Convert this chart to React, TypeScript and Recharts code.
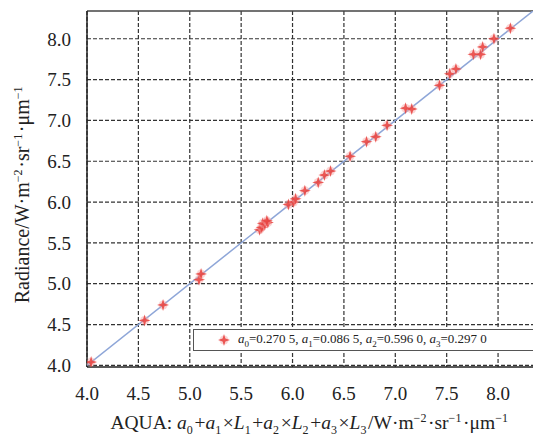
import { ComposedChart, Scatter, XAxis, YAxis, CartesianGrid, ReferenceLine } from 'recharts';

const FONT = '"Liberation Serif", "Times New Roman", serif';

// AQUA combination (x) vs observed radiance (y)
const aquaValues = [4.04, 4.56, 4.74, 5.09, 5.11, 5.68, 5.70, 5.71, 5.73, 5.76, 5.75, 5.96, 6.01, 6.03, 6.12, 6.25, 6.31, 6.37, 6.56, 6.72, 6.81, 6.92, 7.10, 7.16, 7.43, 7.53, 7.59, 7.76, 7.83, 7.85, 7.96, 8.12];
const radianceValues = [4.04, 4.55, 4.74, 5.05, 5.12, 5.66, 5.69, 5.74, 5.73, 5.75, 5.77, 5.97, 6.00, 6.04, 6.14, 6.24, 6.33, 6.38, 6.56, 6.74, 6.80, 6.94, 7.15, 7.14, 7.43, 7.57, 7.63, 7.81, 7.81, 7.90, 8.00, 8.13];

// 1:1 fit line ends
const fitX = [4.0, 8.34];
const fitY = [4.0, 8.34];

const xTicks = [4.0, 4.5, 5.0, 5.5, 6.0, 6.5, 7.0, 7.5, 8.0];
const yTicks = [4.0, 4.5, 5.0, 5.5, 6.0, 6.5, 7.0, 7.5, 8.0];
const X_DOMAIN = [4.0, 8.34];
const Y_DOMAIN = [3.98, 8.34];

const points = aquaValues.map((x, i) => ({ x, y: radianceValues[i] }));
const fitLine = fitX.map((x, i) => ({ x, y: fitY[i] }));

const Star = ({ cx, cy }: any) => {
    if (cx == null || cy == null) return <g />;
    const d = `M${cx},${cy - 6} L${cx + 1.4},${cy - 1.4} L${cx + 6},${cy} L${cx + 1.4},${cy + 1.4} L${cx},${cy + 6} L${cx - 1.4},${cy + 1.4} L${cx - 6},${cy} L${cx - 1.4},${cy - 1.4} Z`;
    return (
        <g>
            <circle cx={cx} cy={cy} r={4.5} fill="#f4a0a0" opacity={0.45} />
            <path d={d} fill="#e8403c" opacity={0.85} />
        </g>
    );
};

const sup = (t: string) => [
    <tspan key={t + 'a'} dy={-7} fontSize={12}>{t}</tspan>,
    <tspan key={t + 'b'} dy={7}>{'\u200a'}</tspan>,
];
const sub = (t: string, k: string) => [
    <tspan key={k + 'a'} dy={5} fontSize={12}>{t}</tspan>,
    <tspan key={k + 'b'} dy={-5}>{'\u200a'}</tspan>,
];

const unitTspans = () => [
    <tspan key="w">W·m</tspan>, ...sup('−2'),
    <tspan key="sr">·sr</tspan>, ...sup('−1'),
    <tspan key="um">·μm</tspan>, ...sup('−1'),
];

const YLabel = ({ viewBox }: any) => {
    const cy = viewBox.y + viewBox.height / 2 + 5;
    return (
        <text x={0} y={0} transform={`translate(29, ${cy}) rotate(-90)`} textAnchor="middle" fontFamily={FONT} fontSize={20} fill="#222">
            <tspan>Radiance/</tspan>
            {unitTspans()}
        </text>
    );
};

const XLabel = () => (
    <text x={310} y={429} textAnchor="middle" fontFamily={FONT} fontSize={19.5} fill="#222">
        <tspan>AQUA: </tspan>
        <tspan fontStyle="italic">a</tspan>{sub('0', 's0')}
        <tspan>+</tspan><tspan fontStyle="italic">a</tspan>{sub('1', 's1')}
        <tspan>×</tspan><tspan fontStyle="italic">L</tspan>{sub('1', 's2')}
        <tspan>+</tspan><tspan fontStyle="italic">a</tspan>{sub('2', 's3')}
        <tspan>×</tspan><tspan fontStyle="italic">L</tspan>{sub('2', 's4')}
        <tspan>+</tspan><tspan fontStyle="italic">a</tspan>{sub('3', 's5')}
        <tspan>×</tspan><tspan fontStyle="italic">L</tspan>{sub('3', 's6')}
        <tspan>/</tspan>
        {unitTspans()}
    </text>
);

const legendSub = (t: string) => <sub style={{ fontSize: 9, fontStyle: 'normal' }}>{t}</sub>;

export default function App() {
    return (
        <div style={{ position: 'absolute', left: 0, top: 0, width: 533, height: 439, background: '#fff' }}>
            <ComposedChart width={533} height={439} margin={{ top: 11, right: 0, bottom: 0, left: 0 }}>
                <CartesianGrid stroke="#333" strokeDasharray="4 2" strokeWidth={1.2} horizontalValues={yTicks} verticalValues={xTicks} />
                <XAxis type="number" dataKey="x" domain={X_DOMAIN} ticks={xTicks} allowDataOverflow
                    tickFormatter={(v) => v.toFixed(1)} height={72} tickSize={0} tickMargin={20}
                    axisLine={{ stroke: '#222', strokeWidth: 1.5 }}
                    tick={{ fontSize: 19, fill: '#222', fontFamily: FONT }}
                    label={<XLabel />} />
                <YAxis type="number" dataKey="y" domain={Y_DOMAIN} ticks={yTicks} allowDataOverflow
                    tickFormatter={(v) => v.toFixed(1)} width={87} tickSize={0} tickMargin={16}
                    axisLine={{ stroke: '#222', strokeWidth: 1.5 }}
                    tick={{ fontSize: 19, fill: '#222', fontFamily: FONT }}
                    label={<YLabel />} />
                <ReferenceLine y={Y_DOMAIN[1]} stroke="#444" strokeWidth={1.5} />
                <Scatter data={fitLine} line={{ stroke: '#8ea6d8', strokeWidth: 1.5 }} shape={() => <g />} isAnimationActive={false} />
                <Scatter data={points} shape={<Star />} isAnimationActive={false} />
            </ComposedChart>
            <div style={{
                position: 'absolute', left: 193, top: 329, width: 345, height: 20,
                border: '1.5px solid #555', background: '#fff', boxSizing: 'content-box',
                fontFamily: FONT, fontSize: 13, color: '#222', display: 'flex', alignItems: 'center',
            }}>
                <svg width={16} height={16} style={{ marginLeft: 22, marginRight: 6 }}>
                    <Star cx={8} cy={8} />
                </svg>
                <span style={{ whiteSpace: 'nowrap' }}>
                    <i>a</i>{legendSub('0')}=0.270 5, <i>a</i>{legendSub('1')}=0.086 5, <i>a</i>{legendSub('2')}=0.596 0, <i>a</i>{legendSub('3')}=0.297 0
                </span>
            </div>
        </div>
    );
}
